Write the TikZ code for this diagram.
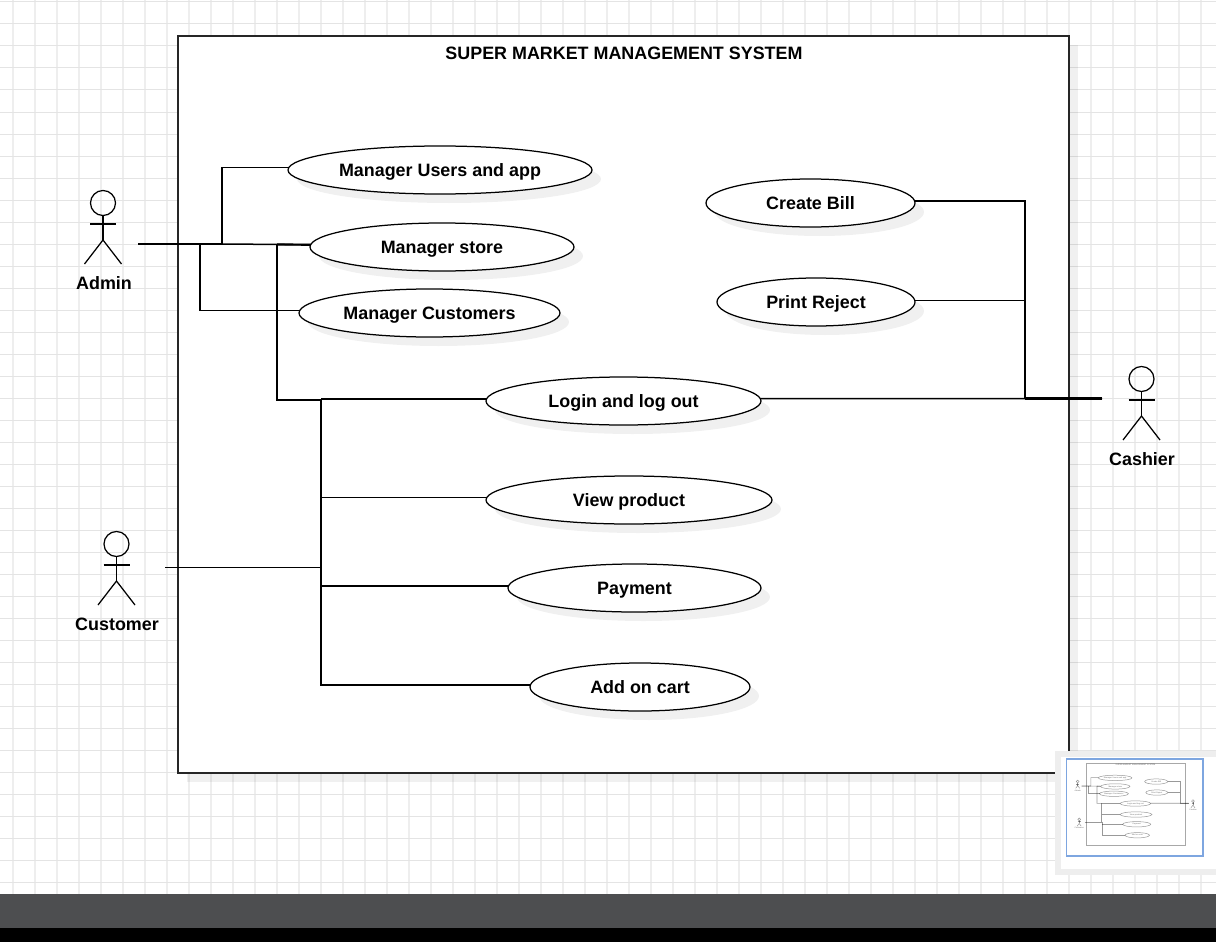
\documentclass[tikz,border=0pt]{standalone}
\usepackage{fontspec}
\setmainfont{Liberation Sans}
\usetikzlibrary{shapes.geometric}
\usetikzlibrary{shadows}
\definecolor{gridv}{HTML}{EEEEEE}
\definecolor{gridh}{HTML}{E4E4E4}
\definecolor{barcolor}{HTML}{4D4E50}
\definecolor{minimapblue}{HTML}{7EA6E0}
\definecolor{panelgray}{HTML}{EEEEEE}
\def\lw{1.5pt}
\def\tw{2.2pt}
\def\ew{1.25pt}
\tikzset{
    softshadow/.style = {drop shadow={shadow xshift=9pt,shadow yshift=-9pt,fill=black,opacity=.06}},
    labeltext/.style = {font=\fontsize{17.9}{20}\selectfont\bfseries, text height=13pt, text depth=0pt},
    usecase/.style = {ellipse, draw=black, fill=white, line width=\ew, inner sep=0pt, outer sep=0pt, minimum height=48pt, softshadow, labeltext},
    boundary/.style = {draw=black!85, fill=white, line width=\lw, softshadow},
    link/.style = {draw=black, line width=\lw},
    trunk/.style = {draw=black, line width=\tw},
    stickman/.pic = {
      \draw[draw=black, line width=\ew] (0,-25) circle (12.5);
      \draw[draw=black, line width=\ew] (0,-12.5) -- (0,12);
      \draw[draw=black, line width=\ew] (-13,-4) -- (13,-4);
      \draw[draw=black, line width=\ew] (-18.5,36) -- (0,12) -- (18.5,36);
    }
}
% the whole use case diagram, also used for the minimap
\newcommand{\marketdiagram}{
  \path[boundary] (178,36) rectangle (1069,773);
  \node[labeltext] (systemtitle) at (624,53) {SUPER MARKET MANAGEMENT SYSTEM};

  \node[usecase, minimum width=304pt] (users) at (440,170) {Manager Users and app};
  \node[usecase, minimum width=264pt] (store) at (442,247) {Manager store};
  \node[usecase, minimum width=261pt] (customers) at (429.5,313) {Manager Customers};
  \node[usecase, minimum width=275pt] (login) at (623.5,401) {Login and log out};
  \node[usecase, minimum width=286pt] (viewproduct) at (629,500) {View product};
  \node[usecase, minimum width=253pt] (payment) at (634.5,588) {Payment};
  \node[usecase, minimum width=220pt] (addcart) at (640,687) {Add on cart};
  \node[usecase, minimum width=209pt] (createbill) at (810.5,203) {Create Bill};
  \node[usecase, minimum width=198pt] (printreject) at (816,302) {Print Reject};

  \pic at (103,228) {stickman};
  \pic at (116.5,569) {stickman};
  \pic at (1141.5,404) {stickman};
  \node[labeltext] (admin) at (104,283) {Admin};
  \node[labeltext] (customer) at (117,624) {Customer};
  \node[labeltext] (cashier) at (1142,459) {Cashier};

  \coordinate (adminport) at (138,244);
  \coordinate (customerport) at (165,567.5);
  \coordinate (cashierport) at (1102,398.5);
  \coordinate (adminhub) at (200,244);
  \coordinate (storehub) at (277,244.5);
  \coordinate (customerhub) at (321,567.5);
  \coordinate (cashierhub) at (1025,398.5);

  \draw[link] (adminport) -- (222,244) |- (users.179);
  \draw[trunk] (adminport) -- (222,244);
  \draw[link] (222,244) -- (store.179);
  \draw[link] (adminhub) |- (customers.179);
  \draw[trunk] (store.179) -- (storehub);
  \draw[link] (storehub) -- (277,400) -- (321,400);

  \draw[link] (customerport) -- (customerhub);
  \draw[trunk] (customerhub |- login.179) -- (login.179);
  \draw[trunk] (customerhub |- login.179) -- (customerhub);
  \draw[link] (customerhub) |- (addcart.179);
  \draw[link] (customerhub |- viewproduct.179) -- (viewproduct.179);
  \draw[link] (customerhub |- payment.179) -- (payment.179);

  \draw[link] (login.1) -- (cashierport);
  \draw[trunk] (cashierhub) -- (cashierport);
  \draw[link] (cashierhub) |- (createbill.1.5);
  \draw[link] (cashierhub |- printreject.1.5) -- (printreject.1.5);
}

\begin{document}
\begin{tikzpicture}[x=1pt,y=-1pt]
  \useasboundingbox (0,0) rectangle (1216,942);
  \fill[white] (0,0) rectangle (1216,942);

  % page grid
  \foreach \gx in {13,35,...,1213}
    \draw[gridv,line width=1.6pt] (\gx,0) -- (\gx,894);
  \foreach \gy in {2,24,...,892}
    \draw[gridh,line width=1pt] (0,\gy) -- (1216,\gy);

  \marketdiagram

  % minimap
  \fill[panelgray] (1055,751) rectangle (1216,875);
  \fill[white] (1061,757) rectangle (1216,869);
  \draw[minimapblue,line width=1.5pt] (1066.5,759) rectangle (1203,856);
  \begin{scope}[shift={(1086,763)},scale=.111,shift={(-178,-36)},transform shape,opacity=.4]
    \def\lw{.6pt}
    \def\tw{.8pt}
    \def\ew{.5pt}
    \tikzset{softshadow/.style={}}
    \marketdiagram
  \end{scope}

  % editor bars
  \fill[barcolor] (0,894) rectangle (1216,928);
  \fill[black] (0,928) rectangle (1216,942);
\end{tikzpicture}
\end{document}
